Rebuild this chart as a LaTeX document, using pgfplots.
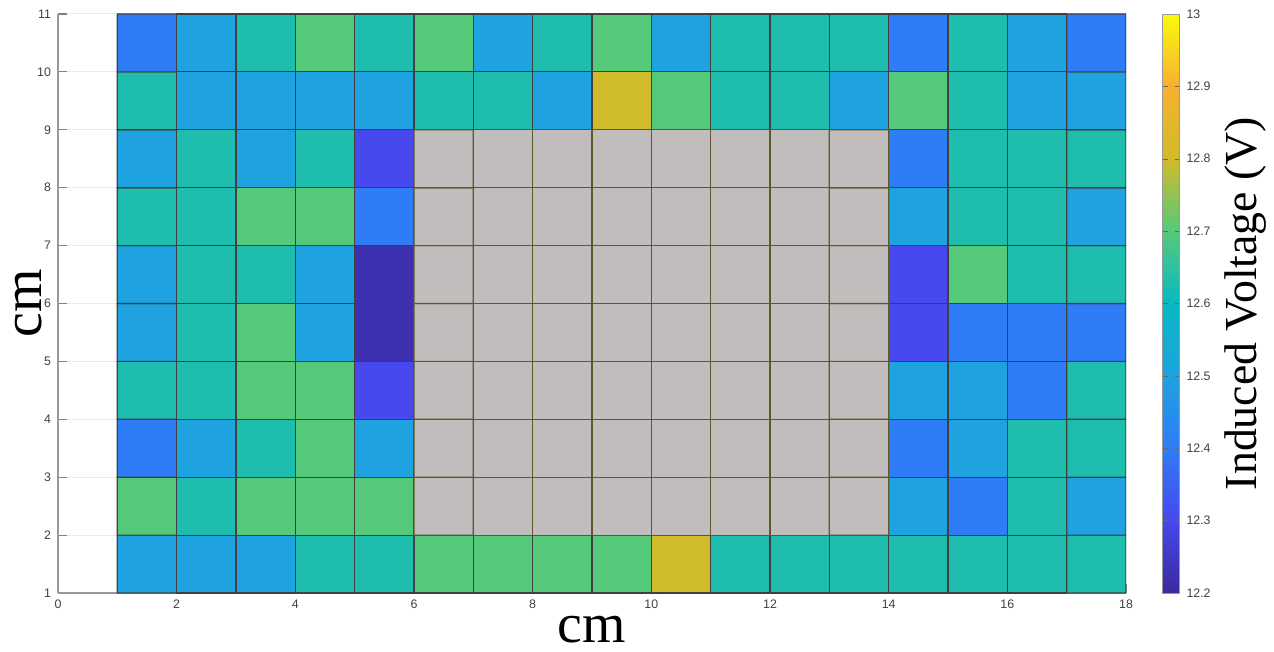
\documentclass[border=0pt]{standalone}
\usepackage{fontspec}
\setmainfont{Liberation Serif}
\newfontfamily\tickfont{Liberation Sans}
\usepackage{pgfplots}
\pgfplotsset{compat=1.18}
\begin{document}
\begin{tikzpicture}
\begin{axis}[
  name=ax,
  scale only axis,
  width=534bp, height=289.5bp,
  xmin=0, xmax=18, ymin=1, ymax=11,
  xtick={0,2,...,18}, ytick={1,2,...,11},
  axis x line*=bottom, axis y line*=left,
  axis line style={black!40, line width=0.8pt},
  tick style={black!50, line width=0.6pt},
  major tick length=4.5bp,
  ymajorgrids, grid style={black!8, line width=0.5pt},
  /pgf/number format/assume math mode=true,
  tick label style={font=\tickfont\fontsize{6.2}{7}\selectfont, text=black!75},
  xlabel={cm}, ylabel={cm},
  label style={font=\fontsize{28}{30}\selectfont},
  xlabel style={yshift=3bp},
  ylabel style={yshift=-9.5bp},
  point meta min=12.2, point meta max=13,
  colormap={parulaish}{rgb255=(58,42,158) rgb255=(71,72,238) rgb255=(47,124,247) rgb255=(30,162,224) rgb255=(8,184,196) rgb255=(85,201,122) rgb255=(208,188,42) rgb255=(248,176,48) rgb255=(249,249,14)},
  colorbar,
  colorbar style={
    width=8.5bp,
    xshift=3bp,
    ytick={12.2,12.3,12.4,12.5,12.6,12.7,12.8,12.9,13},
    yticklabels={12.2,12.3,12.4,12.5,12.6,12.7,12.8,12.9,13},
    major tick length=2.5bp,
    tick style={black!60},
    axis line style={black!40},
    /pgf/number format/assume math mode=true,
    yticklabel style={font=\tickfont\fontsize{6.2}{7}\selectfont, text=black!75},
    ylabel={Induced Voltage (V)},
    ylabel style={font=\fontsize{23}{25}\selectfont},
  },
]
\addplot[matrix plot*, mesh/cols=17, point meta=explicit, draw=black!75, line width=0.6pt]
table[meta=c] {
x y c
1.5 1.5 12.50
2.5 1.5 12.50
3.5 1.5 12.50
4.5 1.5 12.63
5.5 1.5 12.63
6.5 1.5 12.70
7.5 1.5 12.70
8.5 1.5 12.70
9.5 1.5 12.70
10.5 1.5 12.80
11.5 1.5 12.63
12.5 1.5 12.63
13.5 1.5 12.63
14.5 1.5 12.63
15.5 1.5 12.63
16.5 1.5 12.63
17.5 1.5 12.63
1.5 2.5 12.70
2.5 2.5 12.63
3.5 2.5 12.70
4.5 2.5 12.70
5.5 2.5 12.70
6.5 2.5 12.60
7.5 2.5 12.60
8.5 2.5 12.60
9.5 2.5 12.60
10.5 2.5 12.60
11.5 2.5 12.60
12.5 2.5 12.60
13.5 2.5 12.60
14.5 2.5 12.50
15.5 2.5 12.40
16.5 2.5 12.63
17.5 2.5 12.50
1.5 3.5 12.40
2.5 3.5 12.50
3.5 3.5 12.63
4.5 3.5 12.70
5.5 3.5 12.50
6.5 3.5 12.60
7.5 3.5 12.60
8.5 3.5 12.60
9.5 3.5 12.60
10.5 3.5 12.60
11.5 3.5 12.60
12.5 3.5 12.60
13.5 3.5 12.60
14.5 3.5 12.40
15.5 3.5 12.50
16.5 3.5 12.63
17.5 3.5 12.63
1.5 4.5 12.63
2.5 4.5 12.63
3.5 4.5 12.70
4.5 4.5 12.70
5.5 4.5 12.30
6.5 4.5 12.60
7.5 4.5 12.60
8.5 4.5 12.60
9.5 4.5 12.60
10.5 4.5 12.60
11.5 4.5 12.60
12.5 4.5 12.60
13.5 4.5 12.60
14.5 4.5 12.50
15.5 4.5 12.50
16.5 4.5 12.40
17.5 4.5 12.63
1.5 5.5 12.50
2.5 5.5 12.63
3.5 5.5 12.70
4.5 5.5 12.50
5.5 5.5 12.22
6.5 5.5 12.60
7.5 5.5 12.60
8.5 5.5 12.60
9.5 5.5 12.60
10.5 5.5 12.60
11.5 5.5 12.60
12.5 5.5 12.60
13.5 5.5 12.60
14.5 5.5 12.30
15.5 5.5 12.40
16.5 5.5 12.40
17.5 5.5 12.40
1.5 6.5 12.50
2.5 6.5 12.63
3.5 6.5 12.63
4.5 6.5 12.50
5.5 6.5 12.22
6.5 6.5 12.60
7.5 6.5 12.60
8.5 6.5 12.60
9.5 6.5 12.60
10.5 6.5 12.60
11.5 6.5 12.60
12.5 6.5 12.60
13.5 6.5 12.60
14.5 6.5 12.30
15.5 6.5 12.70
16.5 6.5 12.63
17.5 6.5 12.63
1.5 7.5 12.63
2.5 7.5 12.63
3.5 7.5 12.70
4.5 7.5 12.70
5.5 7.5 12.40
6.5 7.5 12.60
7.5 7.5 12.60
8.5 7.5 12.60
9.5 7.5 12.60
10.5 7.5 12.60
11.5 7.5 12.60
12.5 7.5 12.60
13.5 7.5 12.60
14.5 7.5 12.50
15.5 7.5 12.63
16.5 7.5 12.63
17.5 7.5 12.50
1.5 8.5 12.50
2.5 8.5 12.63
3.5 8.5 12.50
4.5 8.5 12.63
5.5 8.5 12.30
6.5 8.5 12.60
7.5 8.5 12.60
8.5 8.5 12.60
9.5 8.5 12.60
10.5 8.5 12.60
11.5 8.5 12.60
12.5 8.5 12.60
13.5 8.5 12.60
14.5 8.5 12.40
15.5 8.5 12.63
16.5 8.5 12.63
17.5 8.5 12.63
1.5 9.5 12.63
2.5 9.5 12.50
3.5 9.5 12.50
4.5 9.5 12.50
5.5 9.5 12.50
6.5 9.5 12.63
7.5 9.5 12.63
8.5 9.5 12.50
9.5 9.5 12.80
10.5 9.5 12.70
11.5 9.5 12.63
12.5 9.5 12.63
13.5 9.5 12.50
14.5 9.5 12.70
15.5 9.5 12.63
16.5 9.5 12.50
17.5 9.5 12.50
1.5 10.5 12.40
2.5 10.5 12.50
3.5 10.5 12.63
4.5 10.5 12.70
5.5 10.5 12.63
6.5 10.5 12.70
7.5 10.5 12.50
8.5 10.5 12.63
9.5 10.5 12.70
10.5 10.5 12.50
11.5 10.5 12.63
12.5 10.5 12.63
13.5 10.5 12.63
14.5 10.5 12.40
15.5 10.5 12.63
16.5 10.5 12.50
17.5 10.5 12.40
};
\addplot[matrix plot*, mesh/cols=8, point meta=explicit,
  colormap={graycells}{rgb255=(192,189,188) rgb255=(192,189,188)},
  draw=black!45!olive, line width=0.6pt]
table[meta=c] {
x y c
6.5 2.5 12.6
7.5 2.5 12.6
8.5 2.5 12.6
9.5 2.5 12.6
10.5 2.5 12.6
11.5 2.5 12.6
12.5 2.5 12.6
13.5 2.5 12.6
6.5 3.5 12.6
7.5 3.5 12.6
8.5 3.5 12.6
9.5 3.5 12.6
10.5 3.5 12.6
11.5 3.5 12.6
12.5 3.5 12.6
13.5 3.5 12.6
6.5 4.5 12.6
7.5 4.5 12.6
8.5 4.5 12.6
9.5 4.5 12.6
10.5 4.5 12.6
11.5 4.5 12.6
12.5 4.5 12.6
13.5 4.5 12.6
6.5 5.5 12.6
7.5 5.5 12.6
8.5 5.5 12.6
9.5 5.5 12.6
10.5 5.5 12.6
11.5 5.5 12.6
12.5 5.5 12.6
13.5 5.5 12.6
6.5 6.5 12.6
7.5 6.5 12.6
8.5 6.5 12.6
9.5 6.5 12.6
10.5 6.5 12.6
11.5 6.5 12.6
12.5 6.5 12.6
13.5 6.5 12.6
6.5 7.5 12.6
7.5 7.5 12.6
8.5 7.5 12.6
9.5 7.5 12.6
10.5 7.5 12.6
11.5 7.5 12.6
12.5 7.5 12.6
13.5 7.5 12.6
6.5 8.5 12.6
7.5 8.5 12.6
8.5 8.5 12.6
9.5 8.5 12.6
10.5 8.5 12.6
11.5 8.5 12.6
12.5 8.5 12.6
13.5 8.5 12.6
};
\end{axis}
\pgfresetboundingbox
\useasboundingbox (ax.south west) ++(-29bp,-29.5bp) rectangle ++(637bp,326bp);
\end{tikzpicture}
\end{document}
